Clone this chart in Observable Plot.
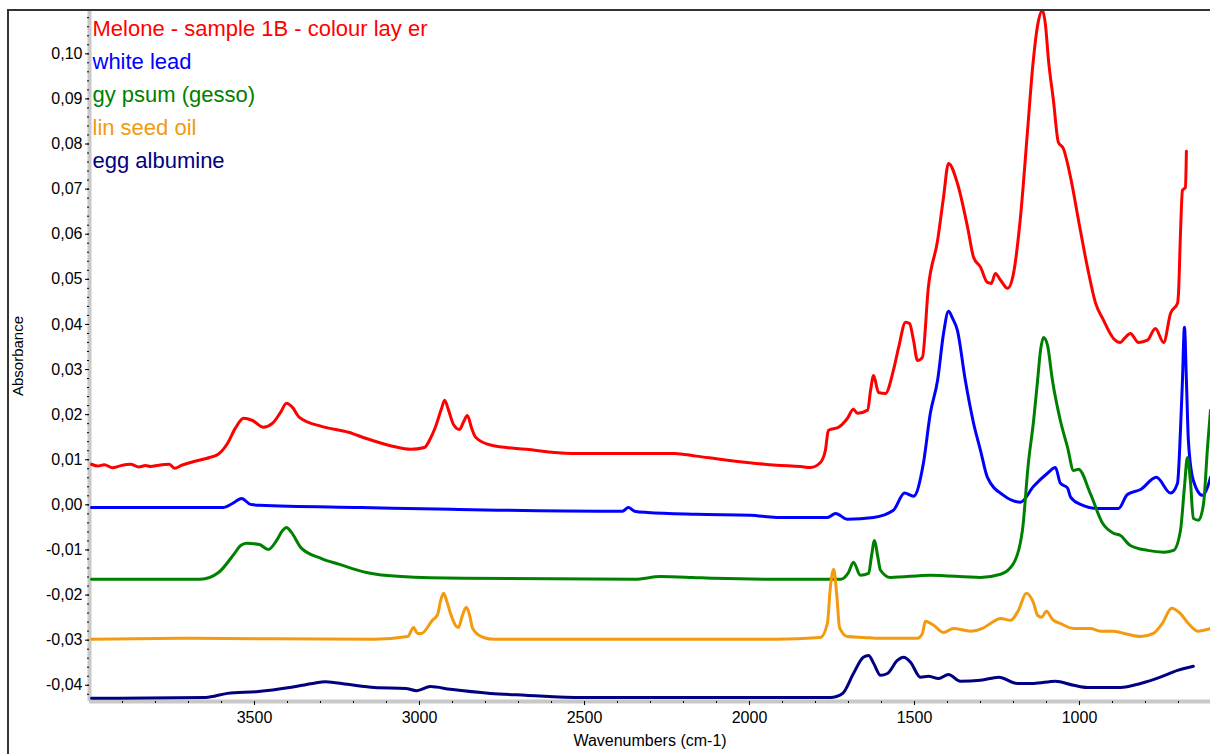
<!DOCTYPE html>
<html>
<head>
<meta charset="utf-8">
<script src="https://cdn.jsdelivr.net/npm/d3@7"></script>
<script src="https://cdn.jsdelivr.net/npm/@observablehq/plot@0.6"></script>
<style>
  html, body { margin: 0; padding: 0; background: #fff; }
  #wrap { position: relative; width: 1210px; height: 754px; overflow: hidden; }
  #frame { position: absolute; left: 7px; top: 9px; right: -4px; bottom: -4px;
           border-left: 2px solid #333; border-top: 2px solid #333; pointer-events: none; }
</style>
</head>
<body>
<div id="wrap"><div id="chart"></div><div id="frame"></div></div>
<script>
// ---- data: [wavenumber (cm-1), absorbance] ----
const melone = [
  [3994,0.0090],[3975,0.0086],[3955,0.0089],[3930,0.0082],[3905,0.0087],[3876,0.0090],[3850,0.0084],
  [3830,0.0087],[3815,0.0085],[3790,0.0088],[3758,0.0090],[3742,0.0081],[3720,0.0088],[3694,0.0094],
  [3636,0.0105],[3610,0.0112],[3582,0.0136],[3558,0.0170],[3533,0.0192],[3506,0.0187],[3473,0.0172],[3445,0.0181],
  [3421,0.0205],[3403,0.0225],[3385,0.0216],[3364,0.0194],[3297,0.0174],[3215,0.0161],[3161,0.0147],
  [3082,0.0130],[3027,0.0123],[2985,0.0127],[2967,0.0147],[2952,0.0172],[2933,0.0214],[2924,0.0232],
  [2912,0.0210],[2897,0.0178],[2879,0.0167],[2867,0.0183],[2855,0.0198],[2842,0.0170],[2830,0.0150],
  [2782,0.0132],[2676,0.0123],[2539,0.0114],[2391,0.0114],[2227,0.0114],[2161,0.0108],[2067,0.0099],
  [1918,0.0088],[1845,0.0085],[1815,0.0083],[1785,0.0094],[1770,0.0121],[1761,0.0165],[1730,0.0172],
  [1703,0.0192],[1685,0.0212],[1673,0.0203],[1642,0.0210],[1633,0.0254],[1624,0.0287],[1609,0.0249],
  [1588,0.0247],[1564,0.0298],[1548,0.0349],[1527,0.0405],[1515,0.0402],[1503,0.0365],[1491,0.0320],
  [1476,0.0327],[1458,0.0482],[1430,0.0586],[1412,0.0682],[1397,0.0757],[1370,0.0713],[1339,0.0615],
  [1321,0.0549],[1300,0.0527],[1279,0.0493],[1267,0.0491],[1255,0.0513],[1239,0.0498],[1218,0.0480],
  [1200,0.0513],[1179,0.0637],[1158,0.0824],[1142,0.0970],[1127,0.1063],[1112,0.1096],[1103,0.1063],
  [1094,0.0986],[1079,0.0897],[1064,0.0804],[1049,0.0790],[1027,0.0726],[1003,0.0631],[976,0.0527],
  [952,0.0449],[927,0.0409],[897,0.0369],[876,0.0360],[864,0.0369],[846,0.0380],[821,0.0360],
  [794,0.0365],[770,0.0391],[745,0.0360],[724,0.0425],[703,0.0447],[700,0.0469],[694,0.0601],
  [688,0.0697],[679,0.0704],[676,0.0784]
];
const whiteLead = [
  [3994,-0.0006],[3815,-0.0006],[3594,-0.0006],[3567,0.0003],[3539,0.0014],[3512,0.0001],[3485,-0.0001],
  [3176,-0.0006],[2903,-0.0010],[2430,-0.0014],[2385,-0.0014],[2367,-0.0006],[2348,-0.0014],[2309,-0.0017],
  [2161,-0.0021],[1997,-0.0023],[1918,-0.0028],[1764,-0.0028],[1739,-0.0019],[1703,-0.0032],[1624,-0.0028],
  [1564,-0.0012],[1530,0.0026],[1503,0.0019],[1473,0.0092],[1452,0.0203],[1430,0.0276],[1412,0.0380],
  [1397,0.0429],[1385,0.0414],[1370,0.0387],[1346,0.0276],[1321,0.0181],[1300,0.0121],[1279,0.0061],
  [1230,0.0021],[1179,0.0006],[1139,0.0041],[1097,0.0070],[1073,0.0083],[1058,0.0048],[1036,0.0037],
  [1027,0.0017],[997,0.0001],[945,-0.0008],[882,-0.0008],[855,0.0023],[815,0.0034],[767,0.0061],
  [724,0.0026],[703,0.0048],[694,0.0165],[688,0.0276],[682,0.0394],[676,0.0276],[670,0.0143],
  [655,0.0054],[627,0.0021],[612,0.0039],[603,0.0061]
];
const gypsum = [
  [3994,-0.0165],[3664,-0.0165],[3609,-0.0150],[3561,-0.0108],[3542,-0.0090],[3524,-0.0085],[3485,-0.0088],
  [3458,-0.0099],[3433,-0.0079],[3415,-0.0057],[3403,-0.0050],[3388,-0.0061],[3358,-0.0096],[3297,-0.0119],
  [3242,-0.0132],[3161,-0.0150],[3055,-0.0159],[2864,-0.0163],[2348,-0.0165],[2270,-0.0159],[2173,-0.0161],
  [2106,-0.0163],[1918,-0.0165],[1724,-0.0165],[1700,-0.0150],[1685,-0.0127],[1664,-0.0156],[1639,-0.0152],
  [1630,-0.0112],[1621,-0.0079],[1612,-0.0112],[1603,-0.0145],[1573,-0.0161],[1452,-0.0156],[1300,-0.0161],
  [1239,-0.0154],[1200,-0.0130],[1173,-0.0057],[1155,0.0092],[1139,0.0187],[1127,0.0276],[1118,0.0343],
  [1109,0.0371],[1097,0.0354],[1082,0.0276],[1058,0.0187],[1036,0.0127],[1018,0.0076],[1003,0.0079],
  [967,0.0025],[930,-0.0041],[897,-0.0063],[876,-0.0068],[846,-0.0090],[794,-0.0101],[745,-0.0105],
  [715,-0.0101],[694,-0.0057],[682,0.0039],[673,0.0105],[664,0.0054],[655,-0.0030],[639,-0.0034],
  [624,0.0003],[612,0.0128],[603,0.0210]
];
const linseedOil = [
  [3994,-0.0298],[3703,-0.0296],[3136,-0.0298],[3036,-0.0292],[3018,-0.0272],[3006,-0.0285],[2994,-0.0285],
  [2961,-0.0256],[2945,-0.0243],[2936,-0.0212],[2927,-0.0196],[2918,-0.0212],[2906,-0.0241],[2891,-0.0267],
  [2882,-0.0272],[2870,-0.0245],[2858,-0.0227],[2848,-0.0245],[2839,-0.0274],[2806,-0.0294],[2773,-0.0298],
  [1921,-0.0298],[1785,-0.0294],[1764,-0.0263],[1755,-0.0183],[1745,-0.0143],[1736,-0.0196],[1727,-0.0272],
  [1703,-0.0292],[1655,-0.0294],[1603,-0.0296],[1491,-0.0296],[1476,-0.0285],[1467,-0.0258],[1442,-0.0267],
  [1412,-0.0283],[1382,-0.0274],[1330,-0.0280],[1294,-0.0274],[1270,-0.0263],[1239,-0.0252],[1209,-0.0256],
  [1185,-0.0234],[1161,-0.0196],[1139,-0.0218],[1127,-0.0245],[1115,-0.0249],[1100,-0.0236],[1082,-0.0254],
  [1058,-0.0263],[1018,-0.0274],[967,-0.0274],[936,-0.0280],[897,-0.0280],[855,-0.0287],[815,-0.0292],
  [776,-0.0285],[749,-0.0263],[721,-0.0229],[694,-0.0241],[670,-0.0263],[642,-0.0280],[603,-0.0274]
];
const eggAlbumine = [
  [3994,-0.0429],[3648,-0.0427],[3582,-0.0418],[3488,-0.0414],[3394,-0.0405],[3324,-0.0396],[3285,-0.0392],
  [3218,-0.0398],[3136,-0.0405],[3042,-0.0407],[3009,-0.0412],[2967,-0.0403],[2906,-0.0409],[2785,-0.0418],
  [2679,-0.0422],[2503,-0.0427],[1921,-0.0427],[1755,-0.0427],[1718,-0.0418],[1685,-0.0374],[1655,-0.0338],
  [1639,-0.0334],[1624,-0.0351],[1603,-0.0378],[1582,-0.0374],[1552,-0.0345],[1533,-0.0338],[1512,-0.0349],
  [1482,-0.0382],[1458,-0.0380],[1427,-0.0385],[1397,-0.0376],[1361,-0.0391],[1300,-0.0389],[1245,-0.0382],
  [1188,-0.0396],[1139,-0.0396],[1073,-0.0391],[1018,-0.0400],[976,-0.0405],[876,-0.0405],[815,-0.0396],
  [755,-0.0382],[703,-0.0367],[655,-0.0358]
];
const seriesNames = ["Melone - sample 1B - colour lay er", "white lead", "gy psum (gesso)", "lin seed oil", "egg albumine"];
const seriesColors = ["#ff0000", "#0000ff", "#008000", "#f39a0e", "#000080"];
const seriesData = [melone, whiteLead, gypsum, linseedOil, eggAlbumine];
const xTicks = [3500, 3000, 2500, 2000, 1500, 1000];
const yTicks = [-0.04, -0.03, -0.02, -0.01, 0, 0.01, 0.02, 0.03, 0.04, 0.05, 0.06, 0.07, 0.08, 0.09, 0.10];
const xDomain = [4000, 603];
const yDomain = [-0.0436, 0.1096];
const xTitle = "Wavenumbers (cm-1)";
const yTitle = "Absorbance";

const xMinor = d3.range(3900, 600, -100);
const yMinor = d3.range(-42, 110, 2).map(d => d / 1000);
const fmtY = v => (v < -1e-9 ? "-" : "") + Math.abs(v).toFixed(2).replace(".", ",");

const lineMarks = seriesData.map((pts, i) =>
  Plot.line(pts, {x: d => d[0], y: d => d[1], stroke: seriesColors[i], strokeWidth: 3,
    strokeLinejoin: "round", curve: "monotone-x"}));
const legendMarks = seriesNames.map((name, i) =>
  Plot.text([name], {frameAnchor: "top-left", text: d => d, fill: seriesColors[i], fontSize: 22,
    textAnchor: "start", lineAnchor: "middle", dx: 3, dy: 18 + 33 * i}));

const chart = Plot.plot({
  width: 1210, height: 754,
  marginLeft: 89, marginRight: 0, marginTop: 10, marginBottom: 53,
  style: {fontFamily: "'Liberation Sans', Arial, sans-serif", fontSize: "16px", background: "transparent", color: "#000"},
  x: {domain: xDomain, axis: null},
  y: {domain: yDomain, axis: null},
  marks: [
    Plot.ruleX([xDomain[0]], {stroke: "#c8c8c8", strokeWidth: 4}),
    Plot.ruleY([yDomain[0]], {stroke: "#c8c8c8", strokeWidth: 4}),
    Plot.axisX(xMinor, {tickSize: 2, tickFormat: () => "", stroke: "#000"}),
    Plot.axisX(xTicks, {tickSize: 4, tickPadding: 6, tickFormat: d => String(d), label: null, fontSize: 16}),
    Plot.axisY(yMinor, {tickSize: 2, tickFormat: () => "", stroke: "#000"}),
    Plot.axisY(yTicks, {tickSize: 4, tickPadding: 3, tickFormat: fmtY, label: null, fontSize: 16}),
    Plot.text([xTitle], {frameAnchor: "bottom", text: d => d, dy: 44, fontSize: 16}),
    Plot.text([yTitle], {frameAnchor: "left", text: d => d, textAnchor: "middle", dx: -71, rotate: -90, fontSize: 15}),
    ...lineMarks,
    ...legendMarks
  ]
});
document.getElementById("chart").appendChild(chart);
</script>
</body>
</html>
